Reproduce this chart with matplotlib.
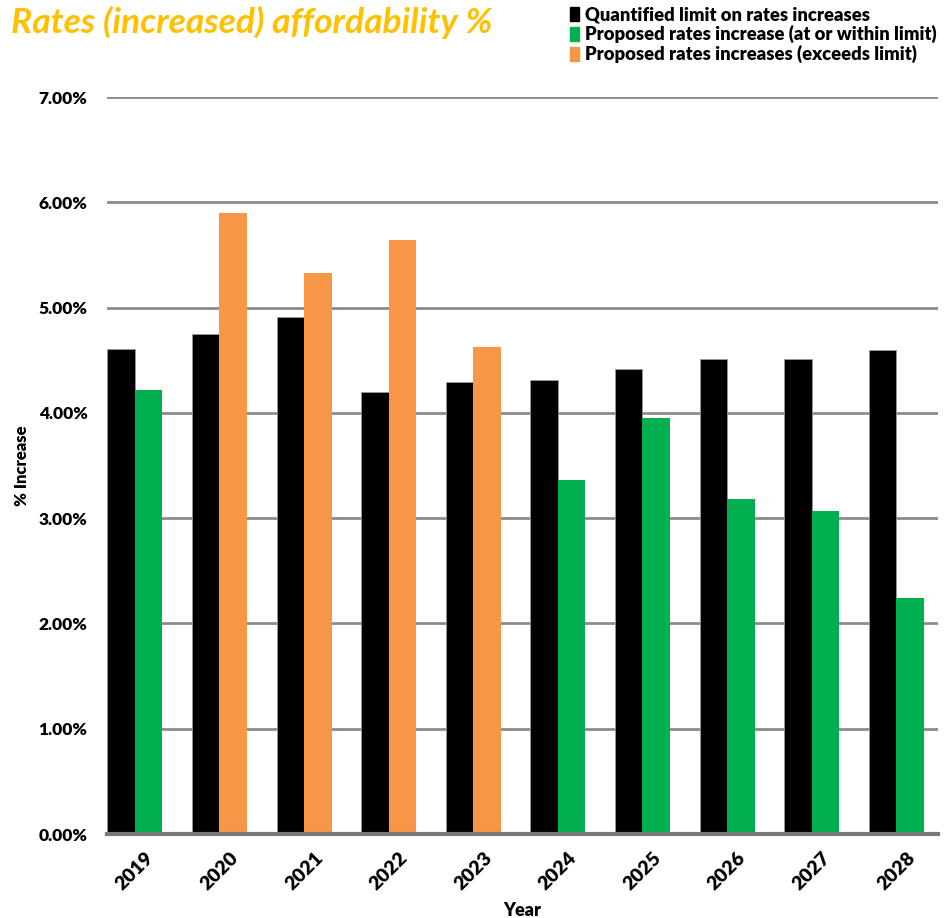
import numpy as np
import matplotlib
matplotlib.use('Agg')
import matplotlib.pyplot as plt
from matplotlib.patches import Patch
from matplotlib.ticker import FuncFormatter

plt.rcParams['font.family'] = ['Lato', 'DejaVu Sans']
plt.rcParams['font.weight'] = 'bold'

years = ['2019', '2020', '2021', '2022', '2023', '2024', '2025', '2026', '2027', '2028']
limit = [4.61, 4.75, 4.91, 4.20, 4.29, 4.31, 4.42, 4.51, 4.51, 4.60]
within = [4.22, np.nan, np.nan, np.nan, np.nan, 3.36, 3.95, 3.18, 3.07, 2.24]
exceeds = [np.nan, 5.90, 5.33, 5.64, 4.63, np.nan, np.nan, np.nan, np.nan, np.nan]

BLACK = '#000000'
GREEN = '#00b050'
ORANGE = '#f79646'
GRID = '#8c8c8c'

fig = plt.figure(figsize=(9.5, 9.18), dpi=100)
ax = fig.add_axes([0.1126, 0.0915, 0.8744, 0.8028])

x = np.arange(len(years))
w = 0.325
ax.bar(x - w / 2, limit, w, color=BLACK, edgecolor='#9a9a9a', linewidth=0.6, zorder=3)
ax.bar(x + w / 2, within, w, color=GREEN, zorder=3)
ax.bar(x + w / 2, exceeds, w, color=ORANGE, zorder=3)

ax.set_ylim(0, 7)
ax.set_xlim(-0.33, 9.49)
ax.set_yticks(np.arange(0, 8, 1))
ax.yaxis.set_major_formatter(FuncFormatter(lambda v, p: '%.2f%%' % v))
ax.grid(axis='y', color=GRID, linewidth=2, zorder=0)
for s in ['left', 'right', 'top']:
    ax.spines[s].set_visible(False)
ax.spines['bottom'].set_color('#7a7a7a')
ax.spines['bottom'].set_linewidth(3)
ax.spines['bottom'].set_zorder(4)
ax.tick_params(axis='y', length=0, labelsize=12.5, pad=14)
ax.tick_params(axis='x', length=0, pad=11)
ax.set_xticks(x)
ax.set_xticklabels(years, rotation=45, ha='center', fontsize=14, fontweight='heavy')
for lbl in ax.get_yticklabels():
    lbl.set_fontweight('heavy')

ax.set_ylabel('% Increase', fontsize=12, fontweight='heavy', labelpad=6)
ax.set_xlabel('Year', fontsize=13, fontweight='heavy', labelpad=6)

fig.text(0.012, 0.975, 'Rates (increased) affordability %', color='#ffc000',
         fontsize=25.5, fontweight='bold', fontstyle='italic', va='center', ha='left')

handles = [Patch(color=BLACK), Patch(color=GREEN), Patch(color=ORANGE)]
labels = ['Quantified limit on rates increases',
          'Proposed rates increase (at or within limit)',
          'Proposed rates increases (exceeds limit)']
fig.legend(handles, labels, loc='upper left', bbox_to_anchor=(0.588, 1.005),
           frameon=False, handlelength=0.5, handleheight=0.75,
           handletextpad=0.35, labelspacing=0.1, borderaxespad=0.2,
           prop={'weight': 'heavy', 'size': 13.2})

fig.savefig('out.png', dpi=100)
